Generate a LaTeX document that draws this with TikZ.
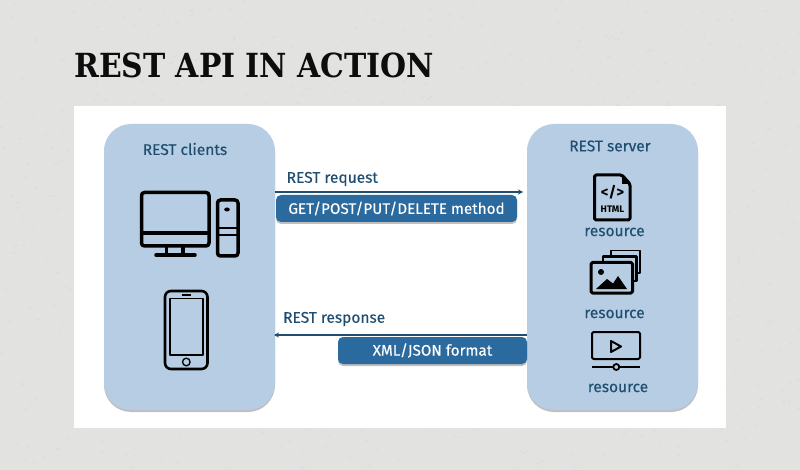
\documentclass[tikz,border=0pt]{standalone}
\usepackage{fontspec}
\setmainfont{Fira Sans}[FakeBold=.25]
\newfontfamily\titlefont{DejaVu Serif Condensed}
\newfontfamily\tagfont{Fira Sans}
\usetikzlibrary{shadows,arrows.meta}
\definecolor{paper}{HTML}{E2E2E1}
\definecolor{boxblue}{HTML}{B6CDE3}
\definecolor{pillblue}{HTML}{2A6A9E}
\definecolor{inkblue}{HTML}{1F4E70}
\definecolor{linkblue}{HTML}{1F4E70}
\tikzset{
  sidebox/.style={fill=boxblue,rounded corners=27pt,minimum width=171pt,minimum height=286pt,inner sep=0pt,
    drop shadow={shadow xshift=0pt,shadow yshift=-2pt,opacity=.25,fill=black}},
  pill/.style={fill=pillblue,rounded corners=5pt,text=white,inner sep=0pt,minimum height=27pt,font=\fontsize{15.2}{17}\selectfont,
    drop shadow={shadow xshift=0pt,shadow yshift=-2pt,opacity=.25,fill=black}},
  lbl/.style={text=inkblue,inner sep=0pt,font=\fontsize{15.5}{17}\selectfont},
  link/.style={draw=linkblue,line width=1.1pt,-{Stealth[length=5pt,width=5pt]}},
  icon/.style={draw=black,line width=#1,line join=round,rounded corners=1.5pt},
  icon/.default=3.5pt
}
\begin{document}
\begin{tikzpicture}[x=1pt,y=-1pt]
	\useasboundingbox (0,0) rectangle (800,470);
	\fill[paper] (0,0) rectangle (800,470);
	% paper grain
	\pgfmathsetseed{7}
	\foreach \i in {1,...,1400}{
		\pgfmathsetmacro{\px}{random(0,800)}
		\pgfmathsetmacro{\py}{random(0,470)}
		\pgfmathsetmacro{\pick}{random(0,1)}
		\ifnum\pick=0 \def\grain{white}\else \def\grain{black!40}\fi
		\draw[\grain,opacity=.1,line width=.7pt] (\px,\py) -- ++(3,-2);
	}
	\node[inner sep=0pt,anchor=west,font=\titlefont\bfseries\fontsize{33.2}{38}\selectfont,text=black!95] (title) at (74,65.5) {REST API IN ACTION};
	\fill[white] (73.5,106) rectangle (726,428);
	% the two sides
	\node[sidebox] (clients) at (189.5,267) {};
	\node[sidebox] (server) at (612.5,267) {};
	\node[lbl] (clientsname) at (185,149) {REST clients};
	\node[lbl] (servername) at (610,146) {REST server};
	% request
	\coordinate (reqfrom) at (clients.east |- 0,192);
	\coordinate (reqto) at (523,192);
	\draw[link] (reqfrom) -- (reqto);
	\node[lbl,anchor=west] (reqlabel) at (286.5,179) {REST request};
	\node[pill,minimum width=241pt] (method) at (396.5,208.5) {GET/POST/PUT/DELETE method};
	% response
	\coordinate (respfrom) at (server.west |- 0,335);
	\coordinate (respto) at (274,335);
	\draw[link] (respfrom) -- (respto);
	\node[lbl,anchor=west] (resplabel) at (283,319) {REST response};
	\node[pill,minimum width=189pt] (format) at (432.5,350.5) {XML/JSON format};
	% desktop
	\draw[icon,rounded corners=3pt] (141.5,192.5) rectangle (209,246);
	\draw[icon] (141.5,233) -- (209,233);
	\draw[icon,rounded corners=0pt] (166.5,246) -- (166.5,255) (183,246) -- (183,255);
	\draw[icon,line cap=round] (156,255) -- (195,255);
	\draw[icon,rounded corners=3pt] (217.5,200) rectangle (238,256);
	\draw[icon,line width=2.5pt] (217.5,228) -- (238,228) (217.5,235) -- (238,235);
	\fill (227,209.5) ellipse (2.8pt and 2pt);
	% phone
	\draw[icon,line width=2.6pt,rounded corners=6pt] (165,291) rectangle (207.5,369);
	\draw[icon,line width=1.5pt,rounded corners=0pt] (169.8,298.5) rectangle (203,355);
	\draw[line width=1.3pt] (182,295) -- (191,295);
	\draw[line width=1.3pt] (186.3,362) circle (3.8pt);
	% html page
	\draw[icon,line width=3pt] (594.5,175) -- (622,175) -- (630,184) -- (630,220) -- (594.5,220) -- cycle;
	\fill (622,175) -- (630,184) -- (622,184) -- cycle;
	\node[inner sep=0pt,font=\tagfont\fontsize{15}{15}\selectfont\bfseries] (tagmark) at (612.5,192) {</>};
	\node[inner sep=0pt,font=\tagfont\fontsize{9.5}{9.5}\selectfont\bfseries] (htmlmark) at (612.5,209.5) {HTML};
	\node[lbl] (res1) at (614.5,232) {resource};
	% pictures
	\draw[icon,line width=3pt] (591,262.5) rectangle (632.5,293);
	\draw[icon,line width=2.4pt,rounded corners=0pt] (603,262) -- (603,256.5) -- (636.5,256.5) -- (636.5,281) -- (633,281);
	\draw[icon,line width=1.8pt,rounded corners=0pt] (611,256) -- (611,250.5) -- (640,250.5) -- (640,273) -- (637,273);
	\fill (601,272) circle (3pt);
	\fill (596,289) -- (607,279) -- (613,283.5) -- (618,276) -- (627,289) -- cycle;
	\node[lbl] (res2) at (614.5,314) {resource};
	% video
	\draw[icon,line width=2pt] (592,332) rectangle (640,359);
	\draw[line width=2pt,line join=round] (611,341) -- (611,352) -- (621,346.5) -- cycle;
	\draw[line width=2pt] (592,367) -- (613,367) (619.5,367) -- (640,367);
	\draw[line width=1.8pt] (616.3,367) circle (3pt);
	\node[lbl] (res3) at (618,388) {resource};
\end{tikzpicture}
\end{document}
